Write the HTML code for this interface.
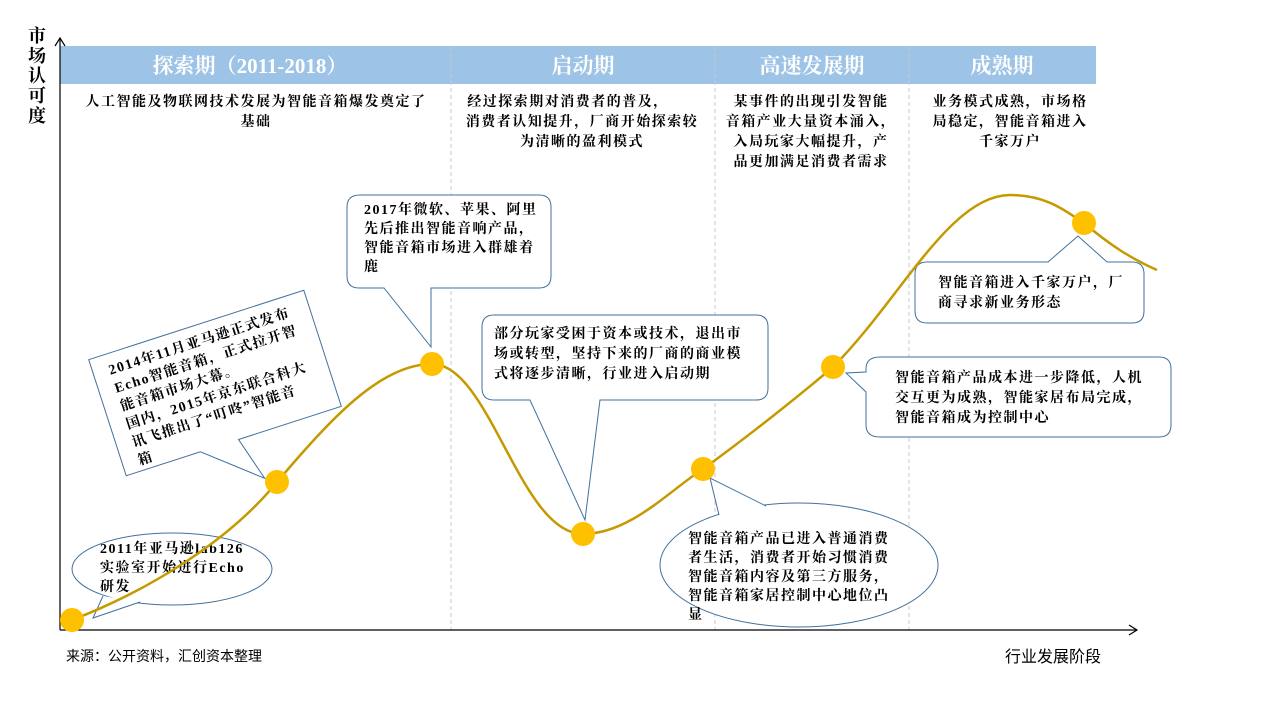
<!DOCTYPE html>
<html><head><meta charset="utf-8"><style>
html,body{margin:0;padding:0;background:#fff;width:1280px;height:720px;overflow:hidden}
svg text{font-family:"Liberation Serif","Noto Serif CJK SC",serif;font-weight:700;font-size:14px;letter-spacing:1.5px;fill:#000}
</style></head><body>
<svg width="1280" height="720" xmlns="http://www.w3.org/2000/svg">
<rect x="60" y="46" width="1036" height="38" fill="#9DC3E6"/>
<text x="250" y="73" text-anchor="middle" style="fill:#fff;font-size:21px;letter-spacing:0">探索期（2011-2018）</text>
<text x="583" y="73" text-anchor="middle" style="fill:#fff;font-size:21px;letter-spacing:0">启动期</text>
<text x="812" y="73" text-anchor="middle" style="fill:#fff;font-size:21px;letter-spacing:0">高速发展期</text>
<text x="1002" y="73" text-anchor="middle" style="fill:#fff;font-size:21px;letter-spacing:0">成熟期</text>
<g stroke="#C8C8C8" stroke-dasharray="4,3" stroke-width="1">
<line x1="451" y1="46" x2="451" y2="630"/><line x1="715" y1="46" x2="715" y2="630"/><line x1="909" y1="46" x2="909" y2="630"/>
</g>
<text x="256" y="106" text-anchor="middle">人工智能及物联网技术发展为智能音箱爆发奠定了</text>
<text x="256" y="126" text-anchor="middle">基础</text>
<text x="568" y="106" text-anchor="middle">经过探索期对消费者的普及，</text>
<text x="582" y="126" text-anchor="middle">消费者认知提升，厂商开始探索较</text>
<text x="582" y="146" text-anchor="middle">为清晰的盈利模式</text>
<text x="811" y="106" text-anchor="middle">某事件的出现引发智能</text>
<text x="811" y="126" text-anchor="middle">音箱产业大量资本涌入，</text>
<text x="811" y="146" text-anchor="middle">入局玩家大幅提升，产</text>
<text x="811" y="166" text-anchor="middle">品更加满足消费者需求</text>
<text x="1010" y="106" text-anchor="middle">业务模式成熟，市场格</text>
<text x="1010" y="126" text-anchor="middle">局稳定，智能音箱进入</text>
<text x="1010" y="146" text-anchor="middle">千家万户</text>
<g stroke="#000" stroke-width="1.2" fill="none">
<line x1="60" y1="38" x2="60" y2="630"/><polyline points="55,46 60,38 65,46"/>
<line x1="60" y1="630" x2="1137" y2="630"/><polyline points="1129,625 1137,630 1129,635"/>
</g>
<text x="28" y="42" style="font-size:18px;letter-spacing:0">市</text><text x="28" y="62" style="font-size:18px;letter-spacing:0">场</text>
<text x="28" y="82" style="font-size:18px;letter-spacing:0">认</text><text x="28" y="102" style="font-size:18px;letter-spacing:0">可</text>
<text x="28" y="122" style="font-size:18px;letter-spacing:0">度</text>
<text x="1005" y="662" style="font-size:16px;font-weight:400;letter-spacing:0;font-family:'Liberation Sans','Noto Sans CJK SC',sans-serif">行业发展阶段</text>
<text x="66" y="661" style="font-size:14px;font-weight:400;letter-spacing:0;font-family:'Liberation Sans','Noto Sans CJK SC',sans-serif">来源：公开资料，汇创资本整理</text>
<g fill="#fff" stroke="#41719C" stroke-width="1">
<ellipse cx="172" cy="569" rx="100" ry="36"/>
<path d="M 103 596 L 93 618 L 140 602"/>
<g transform="rotate(-17.9 215 383)">
<path d="M 102 322 L 328 322 L 328 444 L 220 444 L 233 489 L 180 444 L 102 444 Z"/>
</g>
<path d="M 360 195 L 539 195 Q 551 195 551 207 L 551 276 Q 551 288 539 288 L 431 288 L 431 347 L 384 288 L 359 288 Q 347 288 347 276 L 347 207 Q 347 195 360 195 Z"/>
<path d="M 494 315 L 756 315 Q 768 315 768 327 L 768 388 Q 768 400 756 400 L 600 400 L 585 520 L 530 400 L 494 400 Q 482 400 482 388 L 482 327 Q 482 315 494 315 Z"/>
<ellipse cx="799" cy="565" rx="139" ry="62"/>
<path d="M 719 515 L 710 478 L 766 506"/>
<path d="M 880 357 L 1159 357 Q 1171 357 1171 369 L 1171 425 Q 1171 437 1159 437 L 880 437 Q 866 437 866 425 L 866 392 L 846 373 L 866 372 L 866 369 Q 866 357 880 357 Z"/>
<path d="M 927 262 L 1048 262 L 1078 236 L 1107 262 L 1132 262 Q 1144 262 1144 274 L 1144 311 Q 1144 323 1132 323 L 927 323 Q 915 323 915 311 L 915 274 Q 915 262 927 262 Z"/>
</g>
<text x="100" y="553">2011年亚马逊lab126</text>
<text x="100" y="572">实验室开始进行Echo</text>
<text x="100" y="591">研发</text>
<g transform="rotate(-17.9 215 383)">
<text x="118" y="343">2014年11月亚马逊正式发布</text>
<text x="118" y="362">Echo智能音箱，正式拉开智</text>
<text x="118" y="381">能音箱市场大幕。</text>
<text x="118" y="400">国内，2015年京东联合科大</text>
<text x="118" y="419">讯飞推出了“叮咚”智能音</text>
<text x="118" y="438">箱</text>
</g>
<text x="364" y="214">2017年微软、苹果、阿里</text>
<text x="364" y="233">先后推出智能音响产品，</text>
<text x="364" y="252">智能音箱市场进入群雄着</text>
<text x="364" y="271">鹿</text>
<text x="494" y="338">部分玩家受困于资本或技术，退出市</text>
<text x="494" y="358">场或转型，坚持下来的厂商的商业模</text>
<text x="494" y="378">式将逐步清晰，行业进入启动期</text>
<text x="688" y="543">智能音箱产品已进入普通消费</text>
<text x="688" y="562">者生活，消费者开始习惯消费</text>
<text x="688" y="581">智能音箱内容及第三方服务，</text>
<text x="688" y="600">智能音箱家居控制中心地位凸</text>
<text x="688" y="619">显</text>
<text x="895" y="382">智能音箱产品成本进一步降低，人机</text>
<text x="895" y="402">交互更为成熟，智能家居布局完成，</text>
<text x="895" y="422">智能音箱成为控制中心</text>
<text x="938" y="287">智能音箱进入千家万户，厂</text>
<text x="938" y="307">商寻求新业务形态</text>
<path d="M 72 620 C 150 590, 230 540, 277 482 C 330 420, 380 364, 432 364 C 490 364, 520 534, 583 534 C 630 534, 670 490, 703 469 C 750 435, 800 395, 833 367 C 900 300, 950 195, 1010 195 C 1050 195, 1070 215, 1084 223 C 1110 245, 1130 258, 1157 270" fill="none" stroke="#C49A00" stroke-width="2.5"/>
<g fill="#FFC000">
<circle cx="72" cy="620" r="12"/><circle cx="277" cy="482" r="12"/><circle cx="432" cy="364" r="12"/>
<circle cx="583" cy="534" r="12"/><circle cx="703" cy="469" r="12"/><circle cx="833" cy="367" r="12"/>
<circle cx="1084" cy="223" r="12"/>
</g>
</svg>
</body></html>
